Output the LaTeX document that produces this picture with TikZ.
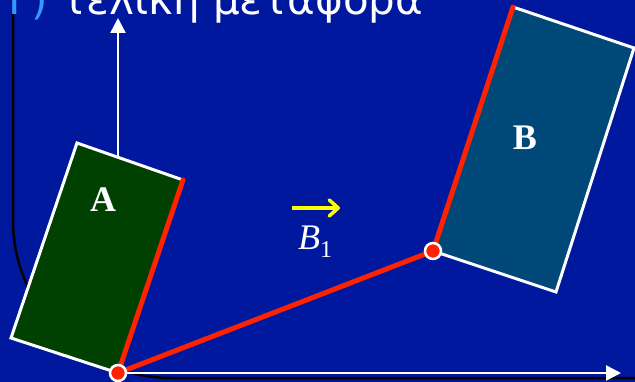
\documentclass[tikz,border=0pt]{standalone}
\usepackage{fontspec}
\setmainfont{Liberation Serif}
\newfontfamily\titlefont{DejaVu Sans}
\usetikzlibrary{arrows.meta}
\definecolor{bgblue}{RGB}{0,24,158}
\definecolor{agreen}{RGB}{0,64,0}
\definecolor{bteal}{RGB}{0,72,120}
\definecolor{redline}{RGB}{255,34,0}
\definecolor{titleblue}{RGB}{51,153,255}
\definecolor{arrowyellow}{RGB}{255,255,0}
\tikzset{
  axisline/.style={white,line width=2.5pt,-{Triangle[length=15pt,width=15pt]}},
  boxedge/.style={draw=white,line width=3pt,line join=miter},
  rededge/.style={redline,line width=5pt,line cap=round},
  joint/.style={circle,fill=redline,draw=white,line width=2.5pt,minimum size=16pt,inner sep=0pt},
  boxlabel/.style={font=\fontsize{36}{36}\selectfont\bfseries,text=white,anchor=base},
}
\begin{document}
\begin{tikzpicture}[x=1pt,y=-1pt]
\clip (0,0) rectangle (635,382);
\fill[bgblue] (0,0) rectangle (635,382);
% black rounded frame line
\draw[black,line width=2.5pt,rounded corners=158pt] (13,-10) -- (13,378) -- (650,378);
% title
\node[anchor=base west,inner sep=0pt,font=\titlefont\fontsize{42}{42}\selectfont] (title) at (8,15)
  {\textcolor{titleblue}{Γ)} \textcolor{white}{τελική μεταφορά}};
% coordinates
\coordinate (O) at (118,373);
\coordinate (ytip) at (118,18);
\coordinate (ybase) at (118,165);
\coordinate (xtip) at (621,373);
\coordinate (A1) at (77,143);
\coordinate (A2) at (183,180);
\coordinate (A4) at (11,338);
\coordinate (B1) at (513,7);
\coordinate (B2) at (634,48);
\coordinate (B3) at (556,292);
\coordinate (P) at (433,251);
% axes
\draw[axisline] (ybase) -- (ytip);
\draw[axisline] (O) -- (xtip);
% rectangle A
\fill[agreen] (A1) -- (A2) -- (O) -- (A4) -- cycle;
\draw[boxedge] (A2) -- (A1) -- (A4) -- (O);
\draw[rededge] (A2) -- (O);
% rectangle B
\fill[bteal] (B1) -- (B2) -- (B3) -- (P) -- cycle;
\draw[boxedge] (B1) -- (B2) -- (B3) -- (P);
\draw[rededge] (B1) -- (P);
% connecting red line
\draw[rededge] (O) -- (P);
\node[joint] (jO) at (O) {};
\node[joint] (jP) at (P) {};
% labels
\node[boxlabel] (la) at (103,212) {A};
\node[boxlabel] (lb) at (525,150) {B};
% yellow vector arrow
\coordinate (ys) at (292,208);
\coordinate (ye) at (340,208);
\draw[arrowyellow,line width=3.5pt,-{Straight Barb[length=9pt,width=16pt,line cap=round,line join=round]}] (ys) -- (ye);
\node[anchor=base west,inner sep=0pt,text=white,font=\fontsize{36}{36}\selectfont] (b1) at (298,250)
  {\textit{B}\raisebox{-8pt}{\fontsize{24}{24}\selectfont 1}};
\end{tikzpicture}
\end{document}
